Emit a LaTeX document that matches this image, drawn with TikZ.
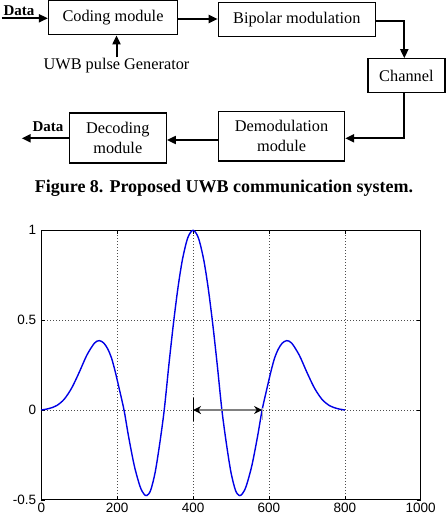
\documentclass[tikz,border=0pt]{standalone}
\usepackage{fontspec}
\setmainfont{Liberation Serif}
\setsansfont{Liberation Sans}
\usetikzlibrary{arrows.meta}

\tikzset{
  blk/.style={draw, line width=1.2pt, inner sep=0pt, align=center,
    font=\fontsize{16.3}{20}\selectfont},
  flow/.style={line width=2pt, -{Triangle[length=9pt,width=8pt]}},
  datalbl/.style={font=\bfseries\fontsize{15}{18}\selectfont, inner sep=0pt},
  ticklbl/.style={font=\sffamily\fontsize{13.5}{16}\selectfont, inner sep=1pt},
  griddot/.style={black!70, line width=0.6pt, dash pattern=on 1pt off 2pt},
}

\begin{document}
\begin{tikzpicture}[x=1pt,y=-1pt]
  \useasboundingbox (0,0) rectangle (446,524);

  \node[blk, minimum width=129pt, minimum height=34pt] (coding) at (113,17.8) {Coding module};
  \node[blk, minimum width=157pt, minimum height=34pt] (bipolar) at (296.8,19.2) {Bipolar modulation};
  \node[blk, minimum width=77pt, minimum height=34pt] (channel) at (406.4,75.8) {Channel};
  \node[blk, minimum width=97pt, minimum height=50pt] (decoding) at (117.8,138) {Decoding\\module};
  \node[blk, minimum width=126pt, minimum height=49pt] (demod) at (281.6,136.4) {Demodulation\\module};
  \node[font=\fontsize{16.3}{20}\selectfont, inner sep=1pt] (uwb) at (116.5,66) {UWB pulse Generator};
  \node[datalbl] (datain) at (19,10.5) {Data};
  \node[datalbl] (dataout) at (48,127) {Data};
  \coordinate (din) at (1.7,18.3);
  \coordinate (dout) at (21.7,138.3);

  \draw[flow] (din) -- (din -| coding.west);
  \draw[flow] (coding.east |- 0,19) -- (bipolar.west |- 0,19);
  \draw[flow] (bipolar.east |- 0,20.7) -| (404.3,0 |- channel.north);
  \draw[flow] (404.3,0 |- channel.south) |- (demod.east |- 0,138.3);
  \draw[flow] (demod.west |- 0,140) -- (decoding.east |- 0,140);
  \draw[flow] (decoding.west |- dout) -- (dout);
  \draw[flow] (uwb.north) -- (uwb.north |- coding.south);

  \node[font=\bfseries\fontsize{18}{22}\selectfont] (caption) at (224,188)
    {Figure 8. Proposed UWB communication system.};

  \begin{scope}[shift={(41.3pt,-410pt)}, x=0.3794pt, y=179.7pt]
    \foreach \t in {200,400,600,800}
      \draw[griddot] (\t,-0.5) -- (\t,1);
    \foreach \v in {0,0.5}
      \draw[griddot] (0,\v) -- (1000,\v);
    \foreach \t in {0,200,...,1000} {
      \draw[line width=0.6pt] (\t,-0.5) -- ++(0,4pt);
      \draw[line width=0.6pt] (\t,1) -- ++(0,-4pt);
      \node[ticklbl, anchor=north] (xt\t) at (\t,-0.5) [yshift=-2pt] {\t};
    }
    \foreach \v/\n in {-0.5/a,0/b,0.5/c,1/d} {
      \draw[line width=0.6pt] (0,\v) -- ++(4pt,0);
      \draw[line width=0.6pt] (1000,\v) -- ++(-4pt,0);
      \node[ticklbl, anchor=east] (yt\n) at (0,\v) [xshift=-4pt] {\v};
    }
    \draw[line width=0.8pt] (0,-0.5) rectangle (1000,1);

    \draw[blue!90!black, line width=1.4pt] plot[smooth] coordinates {
      (0,0) (20,0.008) (40,0.024) (60,0.059) (80,0.122) (100,0.210)
      (120,0.305) (140,0.372) (153,0.386) (165,0.372) (175,0.340)
      (185,0.290) (195,0.212) (205,0.122) (218,0) (230,-0.147)
      (245,-0.309) (260,-0.424) (270,-0.466) (278,-0.476) (288,-0.448)
      (300,-0.348) (312,-0.189) (324,0) (336,0.246) (348,0.476)
      (360,0.677) (372,0.837) (386,0.958) (400,1) (414,0.958)
      (428,0.837) (440,0.677) (452,0.476) (464,0.246) (476,0)
      (488,-0.189) (500,-0.348) (512,-0.448) (522,-0.476) (530,-0.466)
      (540,-0.424) (555,-0.309) (570,-0.147) (582,0) (595,0.122)
      (605,0.212) (615,0.290) (625,0.340) (635,0.372) (647,0.386)
      (660,0.372) (680,0.305) (700,0.210) (720,0.122) (740,0.059)
      (760,0.024) (780,0.008) (800,0)};

    \coordinate (wa) at (400,0);
    \coordinate (wb) at (582,0);
    \draw[line width=1pt] (400,0.067) -- (400,-0.061);
    \draw[gray!60, line width=0.8pt] (584,0.01) -- (584,-0.055);
    \draw[gray, line width=1.3pt,
      {Stealth[length=8pt,width=8pt,color=black]}-{Stealth[length=8pt,width=8pt,color=black]}]
      (wa) -- (wb);
  \end{scope}
\end{tikzpicture}
\end{document}
